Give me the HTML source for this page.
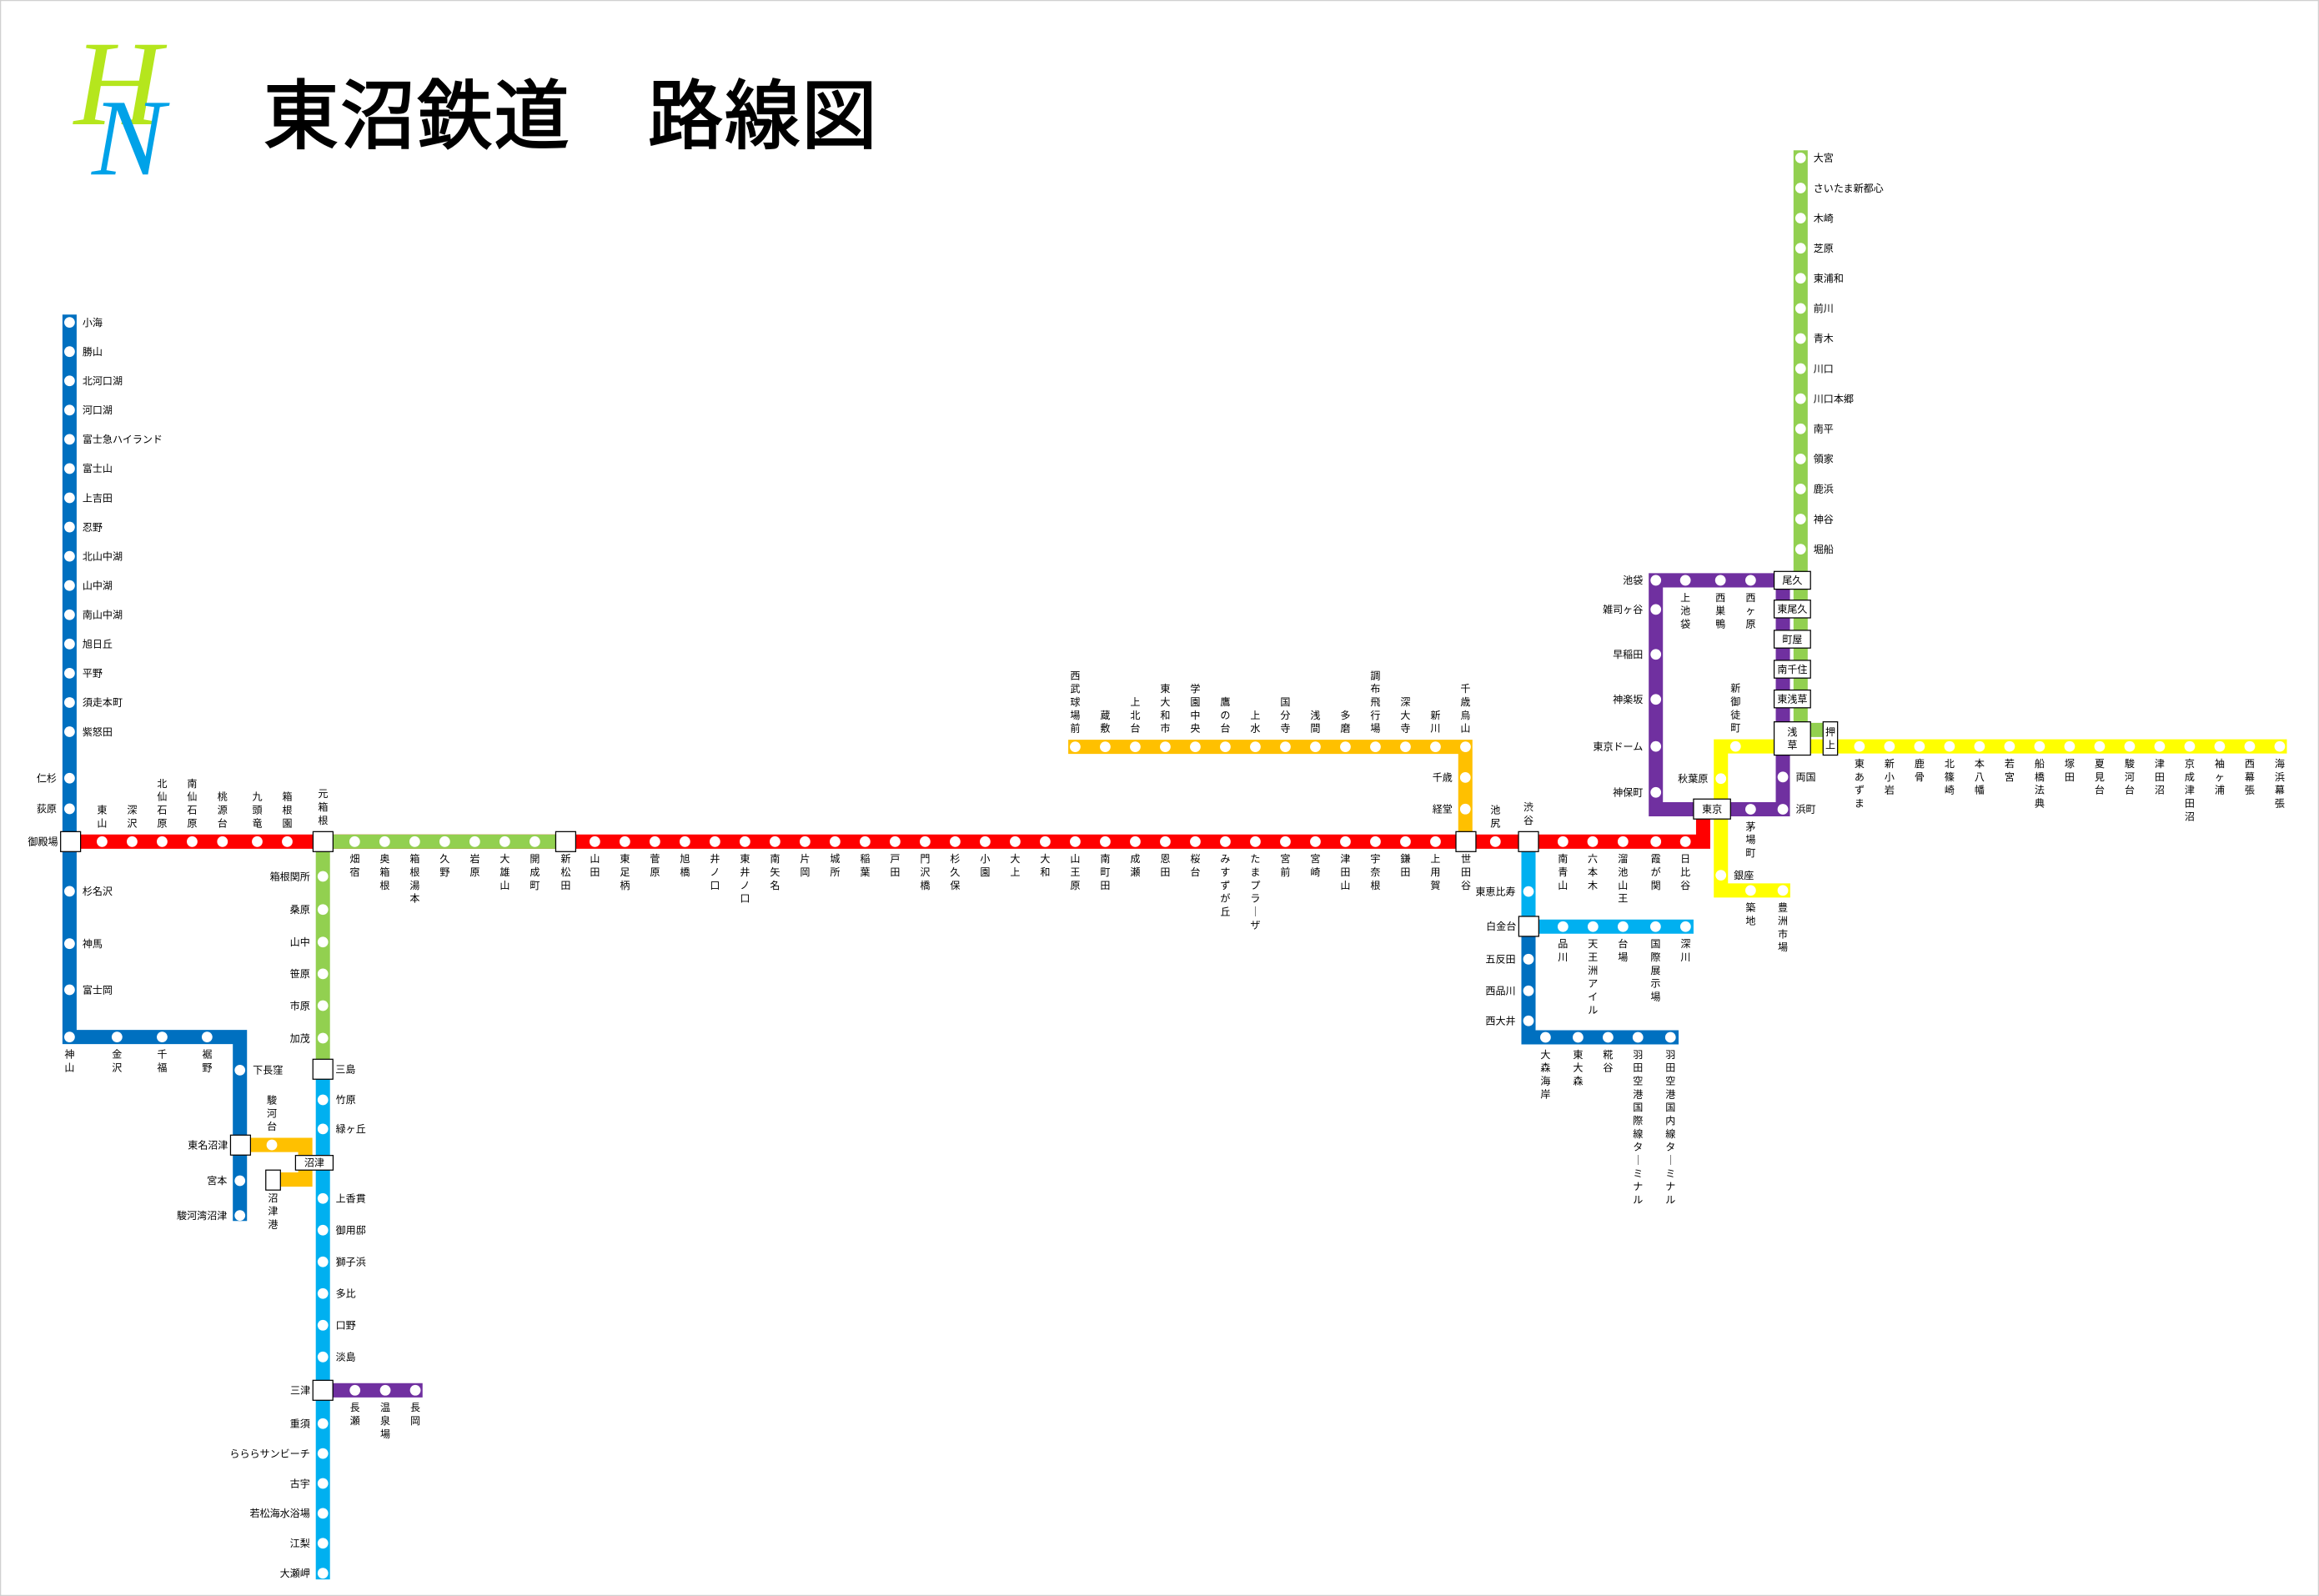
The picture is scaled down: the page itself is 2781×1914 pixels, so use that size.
<!DOCTYPE html>
<html><head><meta charset="utf-8">
<style>
html,body{margin:0;padding:0;background:#fff;}
svg{display:block;}
text{font-family:"Liberation Sans","Noto Sans CJK JP",sans-serif;fill:#000;}
</style></head>
<body>
<svg id="s" xmlns="http://www.w3.org/2000/svg" width="2781" height="1914" viewBox="0 0 1568 1079.2">
<rect x="0.3" y="0.3" width="1567.4" height="1078.6" fill="#fff" stroke="#d0d0d0" stroke-width="0.8"/>
<text x="50" y="84" style="font-family:'Liberation Serif',serif;font-style:italic;font-size:82px;fill:#B5E61D">H</text>
<text x="62" y="118" style="font-family:'Liberation Serif',serif;font-style:italic;font-size:74px;fill:#00A2E8">N</text>
<text x="178" y="96" style="font-family:'Liberation Sans','Noto Sans CJK JP',sans-serif;font-size:51px;stroke:#000;stroke-width:1.2px;letter-spacing:1px">東沼鉄道　路線図</text>
<g id="g"></g>
</svg>
<script>
var S=[];
var FS=6.8,P=8.93;
function L(d,c){S.push('<path d="'+d+'" stroke="'+c+'" stroke-width="9.6" fill="none" stroke-linejoin="miter" stroke-linecap="butt"/>');}
function D(x,y){S.push('<circle cx="'+x+'" cy="'+y+'" r="3.6" fill="#fff"/>');}
function R(x1,y1,x2,y2){S.push('<rect x="'+x1+'" y="'+y1+'" width="'+(x2-x1)+'" height="'+(y2-y1)+'" fill="#fff" stroke="#000" stroke-width="0.7"/>');}
function B(x,y){R(x-6.75,y-6.75,x+6.75,y+6.75);}
function T(x,y,t,a){S.push('<text x="'+x+'" y="'+(y+2.4)+'" font-size="'+FS+'" text-anchor="'+(a||'start')+'">'+t+'</text>');}
function V(x,y0,t){var c=Array.from(t);for(var i=0;i<c.length;i++){var ch=c[i]=='ー'?'｜':c[i];S.push('<text x="'+x+'" y="'+(y0+P*i+2.4)+'" font-size="'+FS+'" text-anchor="middle">'+ch+'</text>');}}
function Va(x,ly,t,off){var n=Array.from(t).length;V(x,ly-(off||12.5)-P*(n-1),t);}
function Vb(x,ly,t){V(x,ly+11.6,t);}
function st(x,y,n,pos,box){
  if(box)B(x,y);else D(x,y);
  if(pos=='r')T(x+(box?8.5:8.7),y,n);
  else if(pos=='l')T(x-(box?8.5:8.7),y,n,'end');
  else if(pos=='a')Va(x,y,n,box?14.5:12.5);
  else if(pos=='b')Vb(x,y,n);
}
var RED='#FF0000',GRN='#92D050',LB='#00B0F0',DB='#0070C0',PUR='#7030A0',ORG='#FFC000',YEL='#FFFF00';
var GX=1217.5,PL=1119.6,PR=1205.5,YV=1163.6;

L('M47,212.7 V701.2 H162.2 V825.6',DB);
L('M47,569.1 H1151.6 V547',RED);
L('M218.4,569.1 H382.5',GRN);
L('M218.3,569.1 V723',GRN);
L('M218.3,723 V1068',LB);
L('M218.3,940.1 H285.7',PUR);
L('M162,774.2 H206.4 V797.6 H189.6',ORG);
L('M722.3,505 H990.8 V569.1',ORG);
L('M1033.5,569.1 V626.6 H1145.1',LB);
L('M1033.5,626.6 V701.4 H1135',DB);
L('M'+GX+',101.6 V493.6 H1232.7',GRN);
L('M'+PL+',392.4 H'+PR+' V547.2 H'+PL+' Z',PUR);
L('M1546.3,504.7 H'+YV+' V602.1 H1210.5',YEL);

var n1=['小海','勝山','北河口湖','河口湖','富士急ハイランド','富士山','上吉田','忍野','北山中湖','山中湖','南山中湖','旭日丘','平野','須走本町','紫怒田'];
n1.forEach(function(n,i){st(47,218.0+19.77*i,n,'r');});
st(47,526.2,'仁杉','l');st(47,546.9,'荻原','l');
st(47.7,569.1,'御殿場','l',1);
st(47,602.7,'杉名沢','r');st(47,638.1,'神馬','r');st(47,669.3,'富士岡','r');
st(47,701.2,'神山','b');st(79.1,701.2,'金沢','b');st(109.6,701.2,'千福','b');st(140,701.2,'裾野','b');
st(162.2,723.6,'下長窪','r');
st(183.8,774.2,'駿河台','a');
st(162.6,774.3,'東名沼津','l',1);
st(162.2,798.4,'宮本','l');st(162.2,821.9,'駿河湾沼津','l');
R(179.7,791.2,189.6,804.7);V(184.6,810,'沼津港');

var rx=[69.0,89.3,109.6,129.9,150.4,173.9,194.2],rn=['東山','深沢','北仙石原','南仙石原','桃源台','九頭竜','箱根園'];
rx.forEach(function(x,i){st(x,569.1,rn[i],'a');});
st(218.4,569.1,'元箱根','a',1);
var gn=['畑宿','奥箱根','箱根湯本','久野','岩原','大雄山','開成町'];
gn.forEach(function(n,i){st(239.8+20.3*i,569.1,n,'b');});
st(382.5,569.1,'新松田','b',1);
var rm=['山田','東足柄','菅原','旭橋','井ノ口','東井ノ口','南矢名','片岡','城所','稲葉','戸田','門沢橋','杉久保','小園','大上','大和','山王原','南町田','成瀬','恩田','桜台','みすずが丘','たまプラーザ','宮前','宮崎','津田山','宇奈根','鎌田','上用賀'];
rm.forEach(function(n,i){st(402.2+20.3*i,569.1,n,'b');});
st(1011.1,569.1,'池尻','a');
var re=[[1056.8,'南青山'],[1076.9,'六本木'],[1097.4,'溜池山王'],[1119.6,'霞が関'],[1139.6,'日比谷']];
re.forEach(function(a){st(a[0],569.1,a[1],'b');});

var gd=[[592.6,'箱根関所'],[615,'桑原'],[637,'山中'],[658.5,'笹原'],[680,'市原'],[702,'加茂']];
gd.forEach(function(a){st(218.3,a[0],a[1],'l');});
st(218.3,723,'三島','r',1);
st(218.3,743.7,'竹原','r');st(218.3,763.4,'緑ヶ丘','r');
var ls=['上香貫','御用邸','獅子浜','多比','口野','淡島'];
ls.forEach(function(n,i){st(218.3,810.4+21.43*i,n,'r');});
st(218.3,940.1,'三津','l',1);
var ls2=['重須','らららサンビーチ','古宇','若松海水浴場','江梨','大瀬岬'];
ls2.forEach(function(n,i){st(218.3,962.6+20.24*i,n,'l');});
st(240,940.1,'長瀬','b');st(260.5,940.1,'温泉場','b');st(280.8,940.1,'長岡','b');
R(199.8,781.3,225.2,791.2);T(212.5,786.2,'沼津','middle');

var on=['西武球場前','蔵敷','上北台','東大和市','学園中央','鷹の台','上水','国分寺','浅間','多磨','調布飛行場','深大寺','新川','千歳烏山'];
on.forEach(function(n,i){st(727+20.3*i,505,n,'a');});
st(990.8,525.7,'千歳','l');st(990.8,547.1,'経堂','l');
st(991.2,569.1,'世田谷','b',1);

st(1033.5,569.1,'渋谷','a',1);
st(1033.5,602.8,'東恵比寿','l');
var lb=[[1056.8,'品川'],[1077.1,'天王洲アイル'],[1097.4,'台場'],[1119.4,'国際展示場'],[1139.7,'深川']];
lb.forEach(function(a){st(a[0],626.6,a[1],'b');});
st(1033.7,626.4,'白金台','l',1);
st(1033.5,648.6,'五反田','l');st(1033.5,670,'西品川','l');st(1033.5,690.3,'西大井','l');
var db=[[1045,'大森海岸'],[1067,'東大森'],[1087.3,'糀谷'],[1107.5,'羽田空港国際線ターミナル'],[1129.5,'羽田空港国内線ターミナル']];
db.forEach(function(a){st(a[0],701.4,a[1],'b');});

st(PL,392.4,'池袋','l');
st(1139.6,392.4,'上池袋','b');st(1163.3,392.4,'西巣鴨','b');st(1183.7,392.4,'西ヶ原','b');
st(PL,412.1,'雑司ヶ谷','l');st(PL,442.5,'早稲田','l');st(PL,472.9,'神楽坂','l');st(PL,504.7,'東京ドーム','l');st(PL,535.8,'神保町','l');
st(PR,525.4,'両国','r');st(PR,547.2,'浜町','r');
st(1183.7,547.2,'茅場町','b');

st(1173.5,504.7,'新御徒町','a');
st(YV,526.5,'秋葉原','l');
st(YV,591.8,'銀座','r');
st(1183.7,602.1,'築地','b');st(PR,602.1,'豊洲市場','b');
var yn=['東あずま','新小岩','鹿骨','北篠崎','本八幡','若宮','船橋法典','塚田','夏見台','駿河台','津田沼','京成津田沼','袖ヶ浦','西幕張','海浜幕張'];
yn.forEach(function(n,i){st(1257.3+20.3*i,504.7,n,'b');});

var gN=['大宮','さいたま新都心','木崎','芝原','東浦和','前川','青木','川口','川口本郷','南平','領家','鹿浜','神谷','堀船'];
gN.forEach(function(n,i){st(GX,106.8+20.35*i,n,'r');});

R(1145.1,540.3,1170.1,553.8);T(1157.6,547,'東京','middle');
[[392.4,'尾久'],[411.8,'東尾久'],[432.2,'町屋'],[452.5,'南千住'],[472.6,'東浅草']].forEach(function(a){R(1199.6,a[0]-6,1224.2,a[0]+6);T(1211.9,a[0],a[1],'middle');});
R(1199.6,488.1,1224.2,510.6);V(1211.9,494.8,'浅草');
R(1232.7,488.1,1242.5,510.6);V(1237.6,494.8,'押上');

document.getElementById('g').innerHTML=S.join('');
</script>
</body></html>
